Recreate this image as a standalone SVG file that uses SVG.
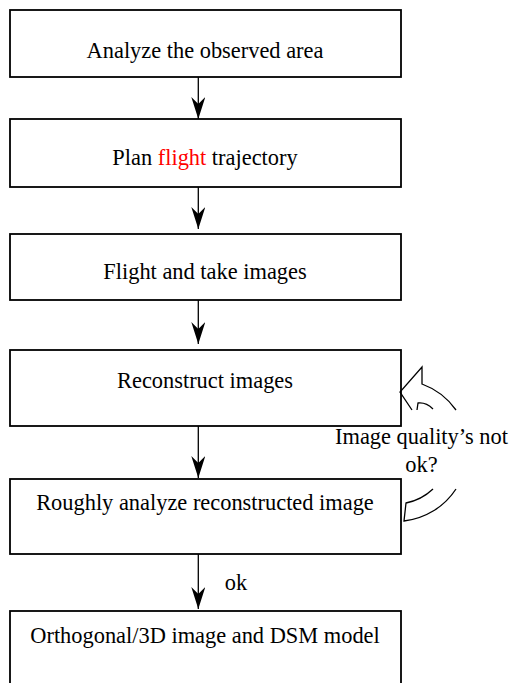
<svg xmlns="http://www.w3.org/2000/svg" width="511" height="683" viewBox="0 0 511 683">
<style>
.box{fill:#fff;stroke:#000;stroke-width:1.8}
.t{font-family:"Liberation Serif","Times New Roman",serif;font-size:22.4px;fill:#000;text-anchor:middle}
.c{stroke:#000;stroke-width:1.3;fill:none}
.red{fill:#ff0000}
</style>
<defs>
<marker id="ah" markerUnits="userSpaceOnUse" viewBox="0 0 22 14" refX="22" refY="7" markerWidth="22" markerHeight="14" orient="auto">
<path d="M0,0 L22,7 L0,14 L7,7 Z" fill="#000"/>
</marker>
</defs>
<rect width="511" height="683" fill="#fff"/>
<g id="n1"><rect class="box" x="10" y="10" width="391" height="67"/><text class="t" x="205" y="58">Analyze the observed area</text></g>
<g id="n2"><rect class="box" x="10" y="119" width="391" height="68"/><text class="t" x="205" y="165">Plan <tspan class="red">flight</tspan> trajectory</text></g>
<g id="n3"><rect class="box" x="10" y="234" width="391" height="66"/><text class="t" x="205" y="279">Flight and take images</text></g>
<g id="n4"><rect class="box" x="10" y="350" width="391" height="76"/><text class="t" x="205" y="388">Reconstruct images</text></g>
<g id="n5"><rect class="box" x="10" y="479" width="391" height="75"/><text class="t" x="205" y="510">Roughly analyze reconstructed image</text></g>
<g id="n6"><rect class="box" x="10" y="611" width="391" height="85"/><text class="t" x="205" y="643">Orthogonal/3D image and DSM model</text></g>
<g id="connectors">
<line class="c" x1="198.3" y1="77" x2="198.3" y2="119" marker-end="url(#ah)"/>
<line class="c" x1="198.3" y1="187" x2="198.3" y2="229" marker-end="url(#ah)"/>
<line class="c" x1="198.3" y1="300" x2="198.3" y2="344" marker-end="url(#ah)"/>
<line class="c" x1="198.3" y1="426" x2="198.3" y2="478" marker-end="url(#ah)"/>
<line class="c" x1="198.3" y1="554" x2="198.3" y2="609" marker-end="url(#ah)"/>
<text class="t" x="236" y="590">ok</text>
<g id="loop">
<path class="c" d="M412,410 L400,392 L422,367 L422,384 A72,72 0 0 1 456,410"/>
<path class="c" d="M417,410 L418,403 Q426,402 433,409"/>
<path class="c" d="M456,489 A72,72 0 0 1 404,521 L406,503 A55,55 0 0 0 433,489"/>
<text class="t" x="421.5" y="444">Image quality’s not</text>
<text class="t" x="421.5" y="472">ok?</text>
</g>
</g>
</svg>
